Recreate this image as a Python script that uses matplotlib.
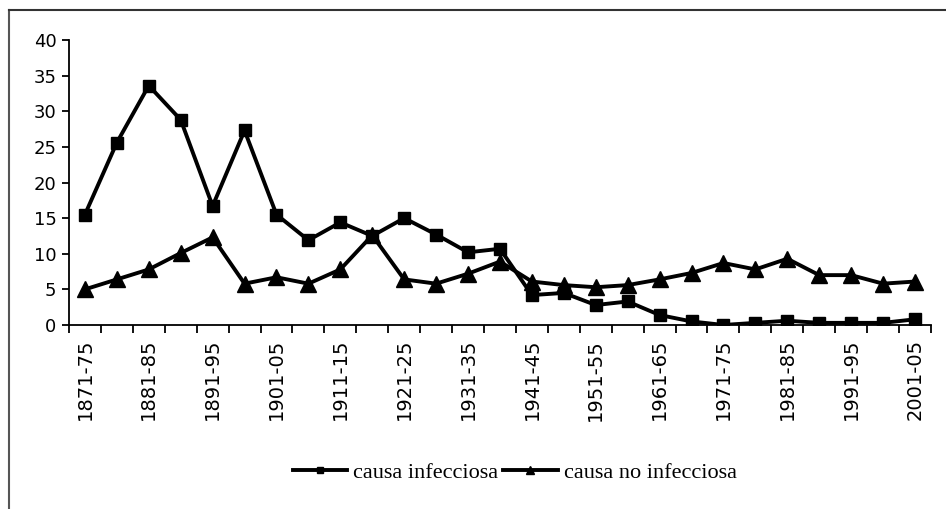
import matplotlib
matplotlib.use("Agg")
import matplotlib.pyplot as plt
from matplotlib.lines import Line2D

# periods of five years, 1871-75 ... 2001-05
periods = ["1871-75", "1876-80", "1881-85", "1886-90", "1891-95", "1896-00",
           "1901-05", "1906-10", "1911-15", "1916-20", "1921-25", "1926-30",
           "1931-35", "1936-40", "1941-45", "1946-50", "1951-55", "1956-60",
           "1961-65", "1966-70", "1971-75", "1976-80", "1981-85", "1986-90",
           "1991-95", "1996-00", "2001-05"]

infecciosa = [15.5, 25.6, 33.6, 28.8, 16.7, 27.3, 15.5, 11.9, 14.4, 12.5,
              15.0, 12.7, 10.2, 10.7, 4.2, 4.5, 2.8, 3.3, 1.4, 0.5,
              0.0, 0.3, 0.6, 0.3, 0.3, 0.3, 0.8]

no_infecciosa = [5.0, 6.4, 7.8, 10.1, 12.3, 5.8, 6.7, 5.8, 7.8, 12.6,
                 6.4, 5.8, 7.2, 8.9, 6.1, 5.6, 5.3, 5.6, 6.4, 7.3,
                 8.7, 7.8, 9.3, 7.0, 7.0, 5.8, 6.1]

y_ticks = [0, 5, 10, 15, 20, 25, 30, 35, 40]

fig = plt.figure(figsize=(9.46, 5.09), dpi=100)
ax = fig.add_axes([0.0729, 0.3615, 0.9112, 0.5599])

x = list(range(len(periods)))
ax.plot(x, infecciosa, color="black", lw=2.8, marker="s", ms=8, zorder=3)
ax.plot(x, no_infecciosa, color="black", lw=2.8, marker="^", ms=11, zorder=3)

ax.set_xlim(-0.5, len(periods) - 0.5)
ax.set_ylim(0, 40)
ax.set_yticks(y_ticks)
ax.set_yticklabels([str(v) for v in y_ticks], fontsize=13)

# labels every other period, tick marks between categories
ax.set_xticks(x[::2])
ax.set_xticklabels(periods[::2], rotation=90, fontsize=14)
ax.set_xticks([i - 0.5 for i in range(len(periods) + 1)], minor=True)
ax.tick_params(axis="x", which="major", length=0, pad=10)
ax.tick_params(axis="x", which="minor", length=6, width=1.3, direction="out")
ax.tick_params(axis="y", length=5, width=1.3, direction="out", pad=4)

for s in ["top", "right"]:
    ax.spines[s].set_visible(False)
for s in ["left", "bottom"]:
    ax.spines[s].set_linewidth(1.3)

handles = [Line2D([], [], color="black", lw=2.8, marker="s", ms=5),
           Line2D([], [], color="black", lw=2.8, marker="^", ms=6)]
fig.legend(handles, ["causa infecciosa", "causa no infecciosa"],
           loc="center", bbox_to_anchor=(0.544, 0.071), ncol=2, frameon=False,
           prop={"family": "Liberation Serif", "size": 16},
           handlelength=2.45, handletextpad=0.27, columnspacing=0.23)

# outer chart frame (left and top visible)
W, H = 946, 509
fig.add_artist(Line2D([9 / W, 9 / W], [0, 1 - 10 / H], color="#555555", lw=1.5))
fig.add_artist(Line2D([9 / W, 1], [1 - 10 / H, 1 - 10 / H], color="#333333", lw=1.5))

fig.savefig("out.png", dpi=100)
